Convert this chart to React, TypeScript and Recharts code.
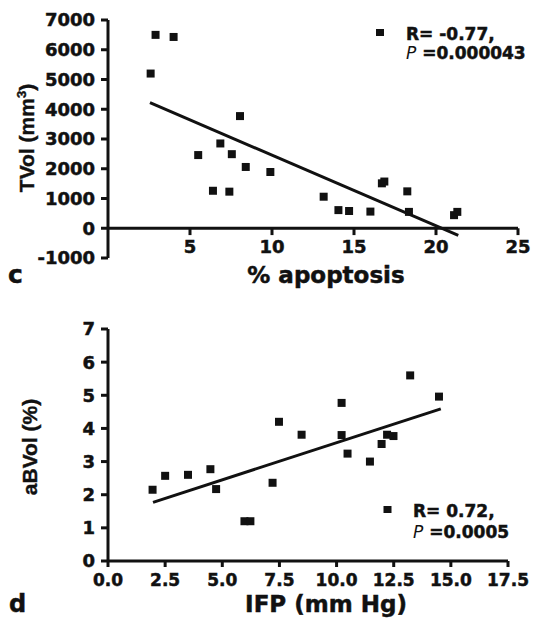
import { ScatterChart, Scatter, XAxis, YAxis, ZAxis, ReferenceLine, Legend, Label } from 'recharts';

// panel c: tumour volume vs % apoptosis
const apoptosisPct = [2.6, 2.9, 4.0, 5.5, 6.4, 6.85, 7.4, 7.55, 8.05, 8.4, 9.9, 13.15, 14.05, 14.7, 16.0, 16.7, 16.85, 18.25, 18.35, 21.1, 21.3];
const tumourVol = [5200, 6500, 6430, 2460, 1260, 2850, 1230, 2490, 3770, 2060, 1890, 1060, 610, 580, 560, 1510, 1570, 1240, 550, 440, 550];
const apoptosisFitX = [2.56, 21.36];
const apoptosisFitY = [4220, -236];
const apoptosisTicks = [5, 10, 15, 20, 25];
const tvolTicks = [-1000, 0, 1000, 2000, 3000, 4000, 5000, 6000, 7000];

// panel d: blood volume vs IFP
const ifpMmHg = [1.95, 2.5, 3.5, 4.48, 4.73, 5.97, 6.23, 7.2, 7.48, 8.47, 10.22, 10.22, 10.48, 11.46, 11.97, 12.21, 12.49, 13.22, 14.48];
const bloodVolPct = [2.15, 2.57, 2.6, 2.77, 2.17, 1.2, 1.2, 2.36, 4.2, 3.81, 4.77, 3.8, 3.24, 3.0, 3.53, 3.81, 3.77, 5.6, 4.96];
const ifpFitX = [1.97, 14.56];
const ifpFitY = [1.77, 4.59];
const ifpTicks = [0, 2.5, 5, 7.5, 10, 12.5, 15, 17.5];
const bvolTicks = [0, 1, 2, 3, 4, 5, 6, 7];

const ink = '#111';
const wide = 'DejaVu Sans';
// the scan's lettering is heavier than DejaVu Bold, so a thin outline thickens it
const heavy = { fontFamily: wide, fontWeight: 'bold', fill: ink, stroke: ink, strokeWidth: 0.5 };
const tickFont = { ...heavy, fontSize: 18 };
const axisStroke = { stroke: ink, strokeWidth: 3 };

const pairs = (xs: number[], ys: number[]) => xs.map((x, i) => ({ x, y: ys[i] }));

const TopXTick = ({ x, y, payload }: any) => (
  <text x={x} y={y - 5} textAnchor="middle" {...tickFont}>{payload.value}</text>
);

const StatBox = ({ r, p, mx, my, tx, b1, b2 }: any) => (
  <svg width={170} height={48} style={{ display: 'block' }}>
    <rect x={mx} y={my} width={8} height={7} fill={ink} />
    <text x={tx} y={b1} {...heavy} fontSize={17}>{r}</text>
    <text x={tx} y={b2} {...heavy} fontSize={17}>
      <tspan fontStyle="italic" fontWeight="normal" strokeWidth={0}>P</tspan> {p}
    </text>
  </svg>
);

const ApoptosisChart = () => (
  <ScatterChart width={538} height={300} margin={{ top: 20, right: 20, bottom: 0, left: 0 }}>
    <XAxis type="number" dataKey="x" domain={[0, 25]} ticks={apoptosisTicks} interval={0}
      axisLine={false} tickLine={false} tickSize={0} tickMargin={0} height={42} tick={<TopXTick />}>
      <Label content={() => (
        <g>
          <text x={326} y={283} textAnchor="middle" {...heavy} fontSize={23}>% apoptosis</text>
          <text x={8} y={283} {...heavy} fontSize={25}>c</text>
        </g>
      )} />
    </XAxis>
    <YAxis type="number" dataKey="y" domain={[-1000, 7000]} ticks={tvolTicks} interval={0} width={108}
      axisLine={axisStroke} tickLine={axisStroke} tickSize={7} tickMargin={6} tick={tickFont}>
      <Label content={() => (
        <text x={34} y={138} transform="rotate(-90 34 138)" textAnchor="middle"
          fontFamily="Liberation Sans" fontWeight="bold" fontSize={21} fill={ink} stroke={ink} strokeWidth={0.4}>
          TVol (mm<tspan dy={-8} fontSize={13}>3</tspan><tspan dy={8}>)</tspan>
        </text>
      )} />
    </YAxis>
    <ZAxis range={[50, 50]} />
    <ReferenceLine y={0} stroke={ink} strokeWidth={3} />
    {apoptosisTicks.map((t) => (
      <ReferenceLine key={t} segment={[{ x: t, y: 0 }, { x: t, y: -230 }]} stroke={ink} strokeWidth={3} />
    ))}
    <Scatter data={pairs(apoptosisPct, tumourVol)} fill={ink} shape="square" isAnimationActive={false} />
    <Scatter data={pairs(apoptosisFitX, apoptosisFitY)} line={{ stroke: ink, strokeWidth: 3 }}
      shape={() => <g />} legendType="none" isAnimationActive={false} />
    <Legend layout="horizontal" verticalAlign="middle" align="center"
      wrapperStyle={{ left: 374, top: 24, width: 170, height: 48 }}
      content={() => <StatBox r="R= -0.77," p="=0.000043" mx={2} my={5} tx={32} b1={16} b2={35} />} />
  </ScatterChart>
);

const IfpChart = () => (
  <ScatterChart width={538} height={318} margin={{ top: 29, right: 30, bottom: 0, left: 0 }}>
    <XAxis type="number" dataKey="x" domain={[0, 17.5]} ticks={ifpTicks} interval={0} height={57}
      axisLine={axisStroke} tickLine={axisStroke} tickSize={6} tickMargin={7} tick={{ ...tickFont, fontSize: 17 }}
      tickFormatter={(v: number) => v.toFixed(1)}>
      <Label content={() => (
        <g>
          <text x={326} y={312} textAnchor="middle" {...heavy} fontSize={23}>IFP (mm Hg)</text>
          <text x={9} y={312} {...heavy} fontSize={24}>d</text>
        </g>
      )} />
    </XAxis>
    <YAxis type="number" dataKey="y" domain={[0, 7]} ticks={bvolTicks} interval={0} width={108}
      axisLine={axisStroke} tickLine={axisStroke} tickSize={7} tickMargin={6} tick={tickFont}>
      <Label content={() => (
        <text x={37} y={147} transform="rotate(-90 37 147)" textAnchor="middle"
          fontFamily="Liberation Sans" fontWeight="bold" fontSize={21} fill={ink} stroke={ink} strokeWidth={0.4}>aBVol (%)</text>
      )} />
    </YAxis>
    <ZAxis range={[50, 50]} />
    <Scatter data={pairs(ifpMmHg, bloodVolPct)} fill={ink} shape="square" isAnimationActive={false} />
    <Scatter data={pairs(ifpFitX, ifpFitY)} line={{ stroke: ink, strokeWidth: 3 }}
      shape={() => <g />} legendType="none" isAnimationActive={false} />
    <Legend layout="horizontal" verticalAlign="middle" align="center"
      wrapperStyle={{ left: 380, top: 200, width: 170, height: 48 }}
      content={() => <StatBox r="R= 0.72," p="=0.0005" mx={3.5} my={6} tx={33} b1={17} b2={38} />} />
  </ScatterChart>
);

export default function App() {
  return (
    <div style={{ position: 'absolute', left: 0, top: 0, width: 538, height: 618, background: '#fff' }}>
      <div style={{ position: 'absolute', left: 0, top: 0 }}>
        <ApoptosisChart />
      </div>
      <div style={{ position: 'absolute', left: 0, top: 300 }}>
        <IfpChart />
      </div>
    </div>
  );
}
